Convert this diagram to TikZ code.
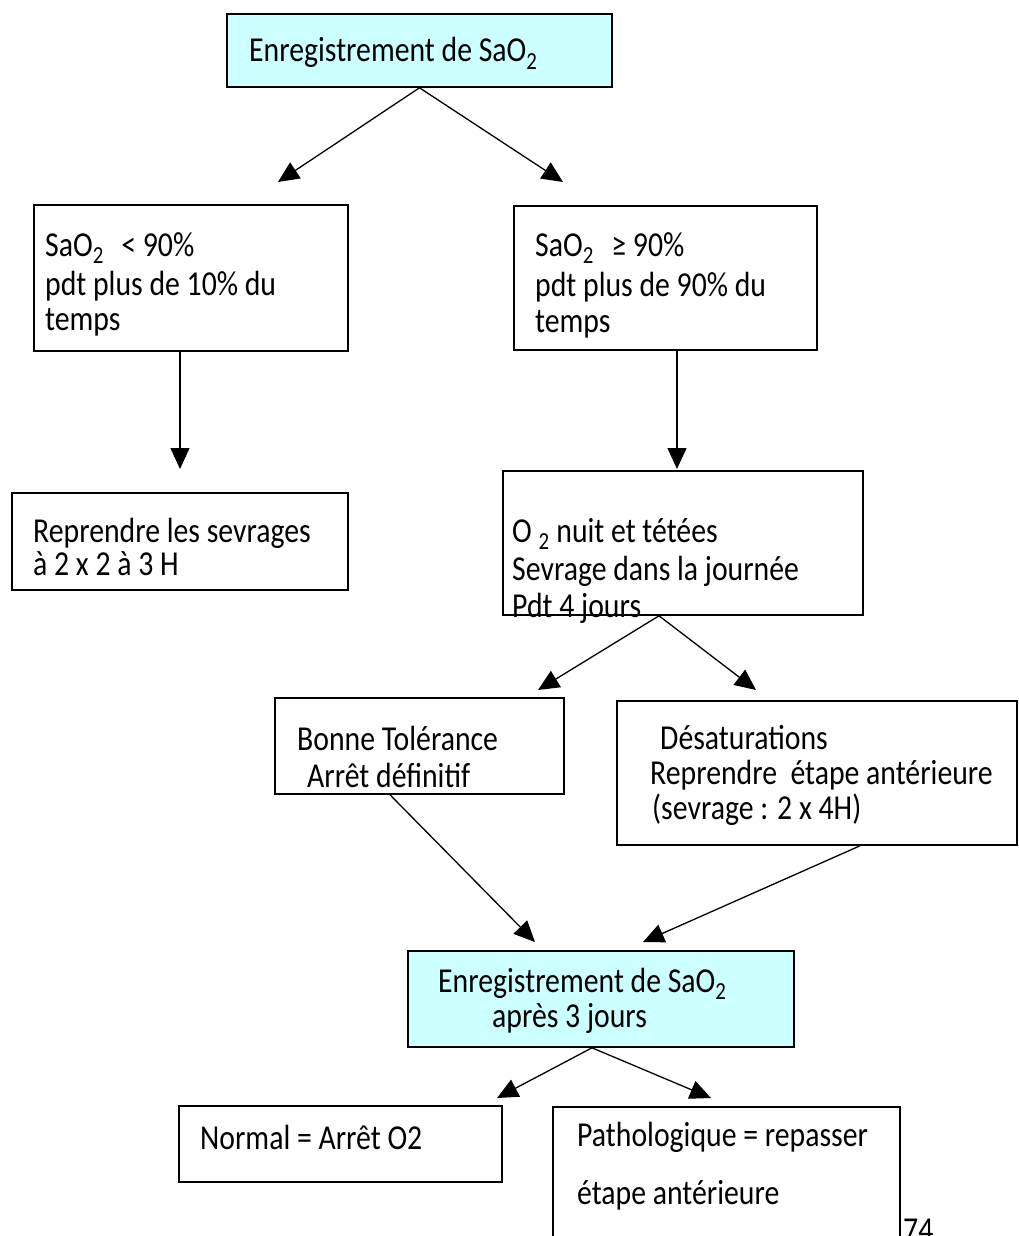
\documentclass[tikz,border=0pt]{standalone}
\usepackage{fontspec}
\setmainfont{Carlito}[FakeStretch=0.85]
\usetikzlibrary{arrows.meta}
\definecolor{boxcyan}{HTML}{CCFFFF}
\begin{document}
\begin{tikzpicture}[x=1pt,y=-1pt,
  flowbox/.style={draw, line width=1.6pt, inner sep=0pt, rectangle},
  filledbox/.style={flowbox, fill=boxcyan},
  txt/.style={anchor=base west, inner sep=0pt, text height=21pt, text depth=5pt, font=\fontsize{35}{35}\selectfont},
  arr/.style={line width=1.3pt, -{Triangle[length=21pt,width=19pt]}}]
\useasboundingbox (0,0) rectangle (1019,1236);
% boxes
\node[filledbox, minimum width=385pt, minimum height=73pt] (b1) at (419.5,50.5) {};
\node[flowbox, minimum width=314pt, minimum height=146pt] (b2) at (191,278) {};
\node[flowbox, minimum width=303pt, minimum height=144pt] (b3) at (665.5,278) {};
\node[flowbox, minimum width=336pt, minimum height=97pt] (b4) at (180,541.5) {};
\node[flowbox, minimum width=360pt, minimum height=144pt] (b5) at (683,543) {};
\node[flowbox, minimum width=289pt, minimum height=96pt] (b6) at (419.5,746) {};
\node[flowbox, minimum width=400pt, minimum height=144pt] (b7) at (817,773) {};
\node[filledbox, minimum width=386pt, minimum height=96pt] (b8) at (601,999) {};
\node[flowbox, minimum width=323pt, minimum height=76pt] (b9) at (340.5,1144) {};
\node[flowbox, minimum width=347pt, minimum height=153pt] (b10) at (726.5,1183.5) {};
% texts
\node[txt] (x1) at (249,62) {Enregistrement de SaO\textsubscript{2}};
\node[txt] (x2a) at (45,256) {SaO\textsubscript{2}\hspace{0.5em}< 90\%};
\node[txt] (x2b) at (45,295) {pdt plus de 10\% du};
\node[txt] (x2c) at (45,330) {temps};
\node[txt] (x3a) at (535,256) {SaO\textsubscript{2}\hspace{0.5em}≥ 90\%};
\node[txt] (x3b) at (535,296) {pdt plus de 90\% du};
\node[txt] (x3c) at (535,332) {temps};
\node[txt] (x4a) at (33,542) {Reprendre les sevrages};
\node[txt] (x4b) at (33,575) {à 2 x 2 à 3 H};
\node[txt] (x5a) at (512,542) {O \textsubscript{2} nuit et tétées};
\node[txt] (x5b) at (512,580) {Sevrage dans la journée};
\node[txt] (x5c) at (512,617) {Pdt 4 jours};
\node[txt] (x6a) at (297,750) {Bonne Tolérance};
\node[txt] (x6b) at (307,787) {Arrêt définitif};
\node[txt] (x7a) at (660,749) {Désaturations};
\node[txt] (x7b) at (650,784) {Reprendre\ \ étape antérieure};
\node[txt] (x7c) at (652,819) {(sevrage : 2 x 4H)};
\node[txt] (x8a) at (438,992) {Enregistrement de SaO\textsubscript{2}};
\node[txt] (x8b) at (492,1027) {après 3 jours};
\node[txt] (x9) at (200,1149) {Normal = Arrêt O2};
\node[txt] (x10a) at (577,1146) {Pathologique = repasser};
\node[txt] (x10b) at (577,1204) {étape antérieure};
\node[txt] (pg) at (903,1241) {74};
% arrow tips
\coordinate (t12) at (278,182);
\coordinate (t13) at (563,182);
\coordinate (t24) at (180,469);
\coordinate (t35) at (677,469);
\coordinate (t56) at (538,690);
\coordinate (t57) at (756,690);
\coordinate (t68) at (535,942);
\coordinate (t78) at (643,942);
\coordinate (t89) at (497,1098);
\coordinate (t810) at (711,1098);
% connectors
\draw[arr] (b1.south) -- (t12);
\draw[arr] (b1.south) -- (t13);
\draw[arr] ([xshift=-11pt]b2.south) -- (t24);
\draw[arr] ([xshift=11.5pt]b3.south) -- (t35);
\draw[arr] ([xshift=-24pt]b5.south) -- (t56);
\draw[arr] ([xshift=-24pt]b5.south) -- (t57);
\draw[arr] ([xshift=-29.5pt]b6.south) -- (t68);
\draw[arr] ([xshift=43pt]b7.south) -- (t78);
\draw[arr] ([xshift=-9pt]b8.south) -- (t89);
\draw[arr] ([xshift=-9pt]b8.south) -- (t810);
\end{tikzpicture}
\end{document}
